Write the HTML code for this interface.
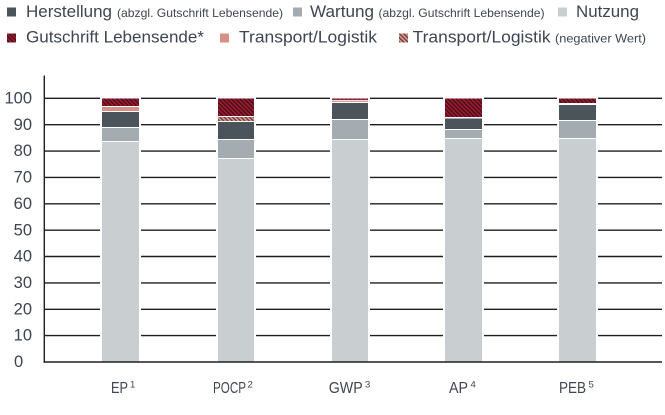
<!DOCTYPE html>
<html>
<head>
<meta charset="utf-8">
<style>
  html,body{margin:0;padding:0;background:#fff;}
  svg{display:block;}
  text{font-family:"Liberation Sans",sans-serif;fill:#3e4552;}
</style>
</head>
<body>
<svg width="665" height="415" viewBox="0 0 665 415" xmlns="http://www.w3.org/2000/svg">
  <defs>
    <pattern id="hr" patternUnits="userSpaceOnUse" width="3" height="3" patternTransform="rotate(-45)">
      <rect width="3" height="3" fill="#a3192f"/>
      <rect width="1.4" height="3" fill="#3f1119"/>
    </pattern>
    <pattern id="hp" patternUnits="userSpaceOnUse" width="3" height="3" patternTransform="rotate(-45)">
      <rect width="3" height="3" fill="#d69a90"/>
      <rect width="1.3" height="3" fill="#6a3a34"/>
    </pattern>
  </defs>

  <!-- Legend row 1 -->
  <rect x="7" y="7.5" width="9" height="9" fill="#4b535b"/>
  <text x="26" y="17" font-size="17" textLength="86" lengthAdjust="spacingAndGlyphs">Herstellung</text>
  <text x="117" y="17" font-size="12" textLength="166" lengthAdjust="spacingAndGlyphs">(abzgl. Gutschrift Lebensende)</text>
  <rect x="293" y="7.5" width="9" height="9" fill="#a5acb1"/>
  <text x="310" y="17" font-size="17" textLength="64" lengthAdjust="spacingAndGlyphs">Wartung</text>
  <text x="378.5" y="17" font-size="12" textLength="166" lengthAdjust="spacingAndGlyphs">(abzgl. Gutschrift Lebensende)</text>
  <rect x="558" y="7.5" width="9" height="9" fill="#c9ced1"/>
  <text x="576" y="17" font-size="17" textLength="63" lengthAdjust="spacingAndGlyphs">Nutzung</text>

  <!-- Legend row 2 -->
  <rect x="7" y="33.5" width="9" height="9" fill="url(#hr)"/>
  <text x="26" y="42.5" font-size="17" textLength="178" lengthAdjust="spacingAndGlyphs">Gutschrift Lebensende*</text>
  <rect x="220" y="33.5" width="9" height="9" fill="#d98f86"/>
  <text x="239" y="42.5" font-size="17" textLength="138" lengthAdjust="spacingAndGlyphs">Transport/Logistik</text>
  <rect x="399" y="33.5" width="9" height="9" fill="url(#hp)"/>
  <text x="412.6" y="42.5" font-size="17" textLength="138" lengthAdjust="spacingAndGlyphs">Transport/Logistik</text>
  <text x="555" y="42.5" font-size="12.3" textLength="91" lengthAdjust="spacingAndGlyphs">(negativer Wert)</text>

  <!-- Gridlines -->
  <g stroke="#1e1e1e" stroke-width="1.4">
    <line x1="44" y1="98.3" x2="662" y2="98.3"/>
    <line x1="44" y1="124.7" x2="662" y2="124.7"/>
    <line x1="44" y1="151.1" x2="662" y2="151.1"/>
    <line x1="44" y1="177.4" x2="662" y2="177.4"/>
    <line x1="44" y1="203.8" x2="662" y2="203.8"/>
    <line x1="44" y1="230.2" x2="662" y2="230.2"/>
    <line x1="44" y1="256.5" x2="662" y2="256.5"/>
    <line x1="44" y1="282.9" x2="662" y2="282.9"/>
    <line x1="44" y1="309.3" x2="662" y2="309.3"/>
    <line x1="44" y1="335.6" x2="662" y2="335.6"/>
  </g>

  <!-- white gaps behind bars -->
  <g fill="#fff">
    <rect x="100" y="96" width="41" height="265"/>
    <rect x="216" y="96" width="40" height="265"/>
    <rect x="330" y="96" width="40" height="265"/>
    <rect x="443" y="96" width="41" height="265"/>
    <rect x="557" y="96" width="41" height="265"/>
  </g>

  <!-- EP -->
  <rect x="102" y="98.5" width="37" height="7.5" fill="url(#hr)"/>
  <rect x="102" y="107" width="37" height="4" fill="#d98f86"/>
  <rect x="102" y="112" width="37" height="15" fill="#4b535b"/>
  <rect x="102" y="128" width="37" height="13" fill="#a5acb1"/>
  <rect x="102" y="142" width="37" height="220" fill="#c9ced1"/>

  <!-- POCP -->
  <rect x="218" y="98.5" width="36" height="17.5" fill="url(#hr)"/>
  <rect x="218" y="117" width="36" height="4" fill="url(#hp)"/>
  <rect x="218" y="122" width="36" height="17" fill="#4b535b"/>
  <rect x="218" y="140" width="36" height="18" fill="#a5acb1"/>
  <rect x="218" y="159" width="36" height="203" fill="#c9ced1"/>

  <!-- GWP -->
  <rect x="332" y="98.5" width="36" height="1.4" fill="url(#hr)"/>
  <rect x="332" y="100.7" width="36" height="1.2" fill="#d98f86"/>
  <rect x="332" y="103" width="36" height="16" fill="#4b535b"/>
  <rect x="332" y="120" width="36" height="19" fill="#a5acb1"/>
  <rect x="332" y="140" width="36" height="222" fill="#c9ced1"/>

  <!-- AP -->
  <rect x="445" y="98.5" width="37" height="18.5" fill="url(#hr)"/>
  <rect x="445" y="118.5" width="37" height="10.5" fill="#4b535b"/>
  <rect x="445" y="130" width="37" height="8" fill="#a5acb1"/>
  <rect x="445" y="139" width="37" height="223" fill="#c9ced1"/>

  <!-- PEB -->
  <rect x="559" y="98.5" width="37" height="4.5" fill="url(#hr)"/>
  <rect x="559" y="105" width="37" height="15" fill="#4b535b"/>
  <rect x="559" y="121" width="37" height="17" fill="#a5acb1"/>
  <rect x="559" y="139" width="37" height="223" fill="#c9ced1"/>

  <!-- Axes -->
  <line x1="44.3" y1="75.5" x2="44.3" y2="362.7" stroke="#1e1e1e" stroke-width="1.4"/>
  <line x1="43.6" y1="362" x2="662" y2="362" stroke="#1e1e1e" stroke-width="1.4"/>

  <!-- Y labels -->
  <g font-size="16.5" text-anchor="end">
    <text x="32" y="103.5">100</text>
    <text x="32" y="129.8">90</text>
    <text x="32" y="156.2">80</text>
    <text x="32" y="182.5">70</text>
    <text x="32" y="208.9">60</text>
    <text x="32" y="235.3">50</text>
    <text x="32" y="261.6">40</text>
    <text x="32" y="288">30</text>
    <text x="32" y="314.4">20</text>
    <text x="32" y="340.7">10</text>
  </g>
  <text x="14" y="367" font-size="16.5">0</text>

  <!-- X labels -->
  <g font-size="15.5">
    <text x="111" y="393" textLength="17" lengthAdjust="spacingAndGlyphs">EP</text>
    <text x="130" y="387.5" font-size="9.5">1</text>
    <text x="213" y="393" textLength="33" lengthAdjust="spacingAndGlyphs">POCP</text>
    <text x="247.5" y="387.5" font-size="9.5">2</text>
    <text x="328.7" y="393" textLength="34" lengthAdjust="spacingAndGlyphs">GWP</text>
    <text x="365" y="387.5" font-size="9.5">3</text>
    <text x="449" y="393" textLength="19" lengthAdjust="spacingAndGlyphs">AP</text>
    <text x="470.5" y="387.5" font-size="9.5">4</text>
    <text x="559" y="393" textLength="27" lengthAdjust="spacingAndGlyphs">PEB</text>
    <text x="588.5" y="387.5" font-size="9.5">5</text>
  </g>
</svg>
</body>
</html>
